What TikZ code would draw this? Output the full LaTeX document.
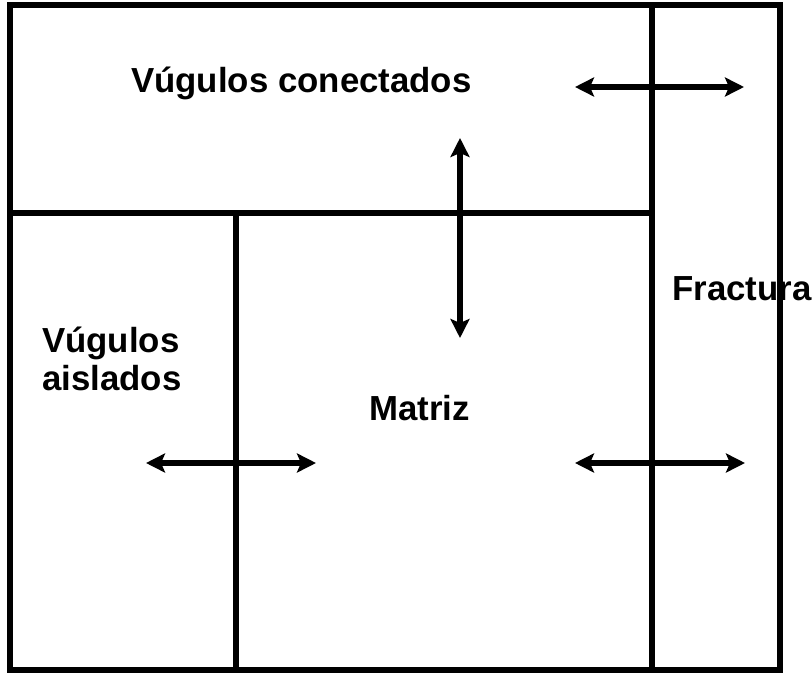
\documentclass[tikz,border=0pt]{standalone}
\usepackage{fontspec}
\setmainfont{Liberation Sans}
\usetikzlibrary{arrows.meta}
\begin{document}
\begin{tikzpicture}[x=1bp,y=-1bp,
  wall/.style={line width=6bp,line cap=rect},
  flow/.style={line width=5.5bp,{Stealth[length=19bp,width=19bp,inset=4bp]}-{Stealth[length=19bp,width=19bp,inset=4bp]}},
  lbl/.style={inner sep=0pt,font=\bfseries\fontsize{34.8bp}{38bp}\selectfont,anchor=base west}]
\useasboundingbox[fill=white] (0,0) rectangle (812,675);
% walls
\draw[wall] (10,5) rectangle (780,670);
\coordinate (ft) at (652,5);
\coordinate (fb) at (652,670);
\coordinate (hl) at (10,213);
\coordinate (hr) at (652,213);
\coordinate (mt) at (236,213);
\coordinate (mb) at (236,670);
\draw[wall] (ft) -- (fb);
\draw[wall] (hl) -- (hr);
\draw[wall] (mt) -- (mb);
% labels
\node[lbl] (vc) at (131,93) {Vúgulos conectados};
\node[lbl] (va1) at (42,352) {Vúgulos};
\node[lbl] (va2) at (42,390) {aislados};
\node[lbl] (mz) at (369,420) {Matriz};
\node[lbl] (fr) at (672,300) {Fractura};
% arrows
\coordinate (a1l) at (575,87);
\coordinate (a1r) at (744,87);
\coordinate (a2t) at (460,138);
\coordinate (a2b) at (460,338);
\coordinate (a3l) at (146,463);
\coordinate (a3r) at (316,463);
\coordinate (a4l) at (575,463);
\coordinate (a4r) at (745,463);
\draw[flow] (a1l) -- (a1r);
\draw[flow] (a2t) -- (a2b);
\draw[flow] (a3l) -- (a3r);
\draw[flow] (a4l) -- (a4r);
\end{tikzpicture}
\end{document}
